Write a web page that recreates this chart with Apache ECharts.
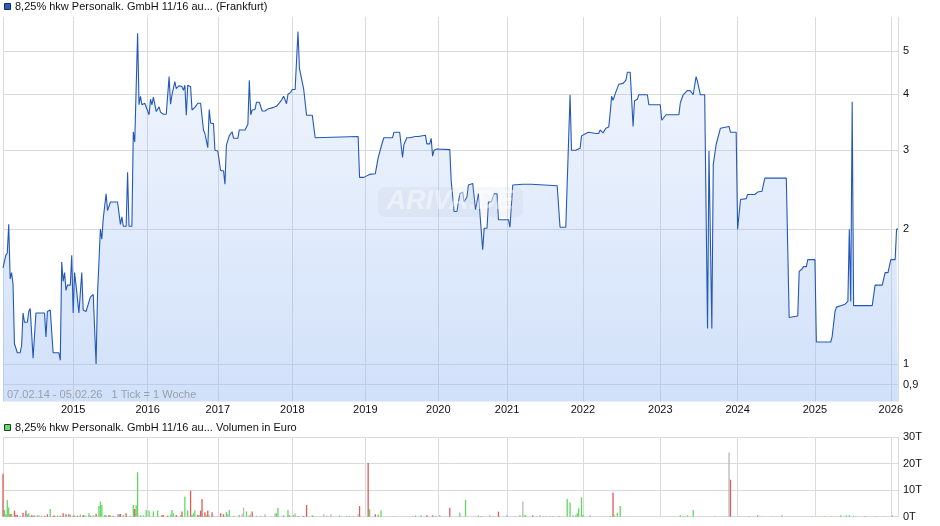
<!DOCTYPE html>
<html><head><meta charset="utf-8">
<script src="https://cdn.jsdelivr.net/npm/echarts@6/dist/echarts.min.js"></script>
<style>html,body{margin:0;padding:0;background:#fff}#c{width:940px;height:526px}</style>
</head><body><div id="c"></div>
<script>
// x = chart tick index (1 Tick = 1 Woche), from 07.02.14 to 05.02.26
const firstTick = 0;
const lastTick = 625;
const yearTicks = [49, 101, 150, 202, 253, 304, 352, 405, 459, 513, 567, 620];
const yearLabels = ['2015','2016','2017','2018','2019','2020','2021','2022','2023','2024','2025','2026'];
const priceTicks = [0.9, 1, 2, 3, 4, 5];
const priceMin = 0.825;
const priceMax = 5.95;
const volumeTicksMax = 30;

// [tick, price]
const pricePoints = [[0,1.64],[2,1.75],[3,1.77],[4,2.05],[5,1.55],[6,1.60],[7,1.51],[8,1.11],[9,1.10],[10,1.06],[12,1.06],[13,1.10],[14,1.30],[15,1.24],[17,1.24],[18,1.31],[19,1.33],[20,1.33],[21,1.03],[23,1.30],[29,1.30],[30,1.15],[31,1.31],[33,1.32],[35,1.06],[36,1.06],[39,1.06],[40,1.02],[41,1.69],[42,1.53],[43,1.60],[44,1.46],[45,1.50],[47,1.50],[48,1.75],[49,1.30],[50,1.60],[51,1.50],[52,1.50],[53,1.30],[55,1.60],[56,1.32],[58,1.31],[59,1.32],[61,1.41],[63,1.43],[64,1.43],[65,1.00],[66,1.43],[67,1.44],[68,2.00],[69,1.90],[70,2.11],[71,2.12],[72,2.40],[73,2.20],[74,2.20],[75,2.30],[80,2.30],[82,2.05],[83,2.13],[84,2.03],[86,2.03],[87,2.68],[88,2.03],[90,2.03],[91,3.30],[92,3.13],[93,3.13],[94,5.47],[95,3.79],[96,3.96],[97,3.79],[99,3.82],[100,3.79],[102,3.60],[103,3.90],[104,3.79],[105,3.94],[107,3.66],[108,3.66],[109,3.75],[110,3.65],[112,3.61],[114,3.61],[116,4.38],[117,3.80],[118,3.99],[119,4.02],[120,4.27],[121,4.12],[123,4.18],[125,4.16],[126,4.08],[127,4.19],[128,3.59],[129,4.19],[131,4.16],[132,3.69],[134,3.74],[136,3.82],[138,3.82],[140,3.33],[141,3.27],[143,3.04],[144,3.70],[145,3.45],[147,3.44],[148,3.00],[150,2.99],[152,2.70],[154,2.70],[155,2.52],[156,3.08],[157,3.11],[158,3.23],[159,3.22],[160,3.30],[161,3.19],[164,3.19],[165,3.33],[169,3.33],[171,3.43],[172,4.30],[173,3.60],[174,3.69],[176,3.70],[177,3.84],[179,3.84],[181,3.67],[183,3.67],[185,3.71],[189,3.74],[191,3.76],[192,3.74],[194,3.86],[196,3.96],[198,3.81],[199,4.00],[201,4.04],[202,4.10],[204,4.10],[206,5.52],[207,4.57],[208,4.55],[210,4.10],[211,4.10],[212,3.59],[216,3.59],[218,3.20],[248,3.22],[249,2.61],[252,2.61],[254,2.63],[255,2.62],[256,2.65],[260,2.66],[261,2.68],[262,2.89],[263,2.89],[265,3.13],[266,3.20],[272,3.20],[273,3.29],[277,3.29],[279,2.89],[280,3.09],[281,3.10],[282,3.20],[284,3.20],[288,3.22],[290,3.22],[291,3.24],[295,3.24],[296,3.10],[298,3.10],[299,3.19],[300,2.91],[301,3.00],[303,3.02],[312,3.01],[313,2.56],[314,2.56],[315,2.19],[317,2.19],[319,2.40],[320,2.42],[321,2.42],[322,2.30],[324,2.36],[325,2.51],[326,2.53],[328,2.53],[330,2.21],[331,2.21],[332,2.40],[333,2.40],[335,1.80],[336,2.01],[338,2.01],[339,2.30],[341,2.30],[343,2.40],[345,2.40],[346,2.10],[348,2.10],[353,2.10],[354,2.02],[355,2.02],[356,2.51],[363,2.52],[369,2.52],[370,2.50],[387,2.50],[389,2.02],[393,2.02],[396,3.99],[397,3.00],[400,3.00],[403,3.03],[404,3.23],[407,3.27],[409,3.29],[414,3.27],[416,3.27],[417,3.33],[419,3.28],[421,3.36],[423,3.38],[424,3.63],[425,3.96],[426,3.88],[428,4.05],[430,4.21],[433,4.23],[435,4.30],[436,4.48],[438,4.48],[440,3.39],[441,3.87],[443,3.90],[444,3.99],[450,3.99],[451,3.79],[459,3.79],[460,3.50],[461,3.50],[463,3.60],[472,3.60],[473,3.83],[474,3.85],[475,3.99],[478,4.08],[480,4.07],[482,3.99],[484,4.38],[485,4.27],[487,3.99],[490,3.99],[492,1.20],[493,2.99],[494,2.99],[495,1.20],[496,2.79],[497,2.79],[498,3.09],[499,3.09],[501,3.36],[502,3.39],[507,3.39],[508,3.29],[512,3.29],[513,2.00],[515,2.33],[516,2.34],[519,2.34],[520,2.39],[525,2.39],[527,2.42],[530,2.43],[532,2.60],[547,2.60],[549,1.27],[550,1.28],[555,1.28],[556,1.61],[558,1.63],[559,1.65],[561,1.65],[562,1.71],[567,1.71],[568,1.12],[578,1.12],[579,1.15],[580,1.16],[581,1.31],[582,1.34],[585,1.35],[588,1.36],[590,1.38],[591,2.00],[592,1.38],[593,3.85],[594,1.35],[599,1.35],[607,1.35],[609,1.50],[614,1.50],[616,1.60],[618,1.60],[620,1.71],[623,1.71],[624,2.00],[625,2.00]];

// volume in thousand euro (T), [tick, value]
const volumeUp = [[1,2.5],[2,1.0],[3,6.3],[4,3.5],[6,1.0],[17,0.9],[18,1.3],[24,0.5],[33,2.9],[38,0.5],[47,0.8],[50,0.5],[54,0.8],[57,0.5],[60,1.3],[63,0.5],[67,4.0],[68,5.7],[69,4.4],[71,0.6],[72,0.6],[75,0.5],[84,0.6],[91,4.4],[93,4.3],[94,16.7],[96,0.6],[98,0.5],[100,2.5],[102,2.3],[105,2.0],[108,2.3],[117,0.8],[118,2.5],[119,1.3],[124,0.6],[127,7.6],[129,2.3],[132,0.6],[133,1.3],[134,2.3],[137,0.6],[142,0.5],[144,0.5],[156,1.7],[158,2.5],[161,0.3],[165,0.6],[170,2.0],[172,0.5],[191,1.3],[192,3.4],[196,0.5],[199,2.5],[203,0.6],[206,0.3],[216,0.5],[240,0.3],[256,2.9],[262,0.8],[264,2.3],[273,0.2],[288,0.5],[292,0.5],[302,0.3],[319,1.5],[323,6.3],[332,0.5],[342,0.2],[364,0.5],[365,0.5],[394,6.7],[396,5.3],[400,0.5],[401,1.3],[402,3.2],[404,7.3],[405,0.6],[424,0.3],[427,0.5],[429,1.5],[431,4.0],[473,0.5],[475,0.3],[478,0.5],[482,2.5],[497,0.2],[514,0.2],[521,0.3],[527,0.6],[574,0.2],[578,0.2],[585,0.5],[589,0.5],[591,0.5],[594,0.3],[610,0.2],[621,0.5]];
const volumeDown = [[0,16.2],[5,1.0],[8,2.3],[9,0.6],[10,0.6],[14,1.5],[16,2.3],[20,0.6],[21,0.4],[29,0.3],[31,0.9],[35,0.4],[36,0.4],[40,0.4],[42,1.3],[44,0.9],[46,0.9],[49,0.4],[52,0.4],[56,0.6],[61,0.4],[65,1.0],[74,0.6],[77,0.4],[81,0.9],[82,1.0],[86,1.3],[92,2.9],[111,0.6],[112,0.6],[115,0.4],[121,0.6],[125,2.0],[131,9.8],[136,0.6],[138,2.3],[139,6.7],[141,1.7],[143,2.3],[146,1.7],[152,1.3],[154,0.9],[174,2.0],[200,0.5],[210,0.3],[212,4.4],[217,0.2],[249,4.0],[255,20.2],[260,0.9],[296,0.5],[300,0.5],[312,3.4],[334,0.2],[346,1.9],[370,0.5],[388,0.2],[426,9.1],[508,13.9],[602,0.2]];
const volumeFlat = [[12,0.4],[22,0.6],[25,0.6],[27,0.4],[80,0.9],[89,0.4],[147,0.3],[150,0.3],[157,1.0],[167,0.9],[168,3.4],[173,0.9],[177,0.4],[180,0.4],[183,0.9],[190,1.3],[202,0.4],[204,1.3],[224,0.9],[226,0.4],[229,0.9],[235,0.6],[242,0.4],[245,0.4],[248,0.9],[286,0.3],[305,0.6],[340,0.6],[352,0.6],[358,0.2],[361,0.6],[363,5.7],[373,0.2],[375,0.6],[377,0.2],[379,0.3],[382,0.3],[384,0.3],[398,0.6],[410,0.6],[468,0.2],[507,24.2],[530,0.2],[537,0.2],[544,0.6],[565,0.2],[596,0.2],[615,0.2]];

const FONT = '"Liberation Sans", Arial, sans-serif';
const GRID_COLOR = '#dadada';
const gridTicks = [firstTick].concat(yearTicks, [lastTick]);

function xAxisFor(gridIndex, showLabels) {
  return {
    type: 'value', gridIndex: gridIndex, min: firstTick, max: lastTick,
    axisLine: {show: false},
    axisTick: {show: false, customValues: gridTicks},
    splitLine: {show: true, lineStyle: {color: GRID_COLOR, width: 1}},
    axisLabel: {
      show: showLabels, customValues: yearTicks, margin: 3,
      fontFamily: FONT, fontSize: 11, color: '#111',
      formatter: function (v) { const i = yearTicks.indexOf(v); return i >= 0 ? yearLabels[i] : ''; }
    }
  };
}

const chart = echarts.init(document.getElementById('c'), null, {renderer: 'canvas'});
chart.setOption({
  animation: false,
  backgroundColor: '#fff',
  grid: [
    {left: 3, right: 42, top: 17, bottom: 124.5},
    {left: 3, right: 42, top: 437, bottom: 9.3}
  ],
  xAxis: [xAxisFor(0, true), xAxisFor(1, false)],
  yAxis: [
    {
      type: 'log', logBase: 10, gridIndex: 0, position: 'right', min: priceMin, max: priceMax,
      axisLine: {show: false},
      axisTick: {show: false, customValues: priceTicks},
      splitLine: {show: true, lineStyle: {color: GRID_COLOR, width: 1}},
      axisLabel: {
        customValues: priceTicks, margin: 5, fontFamily: FONT, fontSize: 11, color: '#111',
        formatter: function (v) { return String(v).replace('.', ','); }
      }
    },
    {
      type: 'value', gridIndex: 1, position: 'right', min: 0, max: volumeTicksMax, interval: 10,
      axisLine: {show: false}, axisTick: {show: false},
      splitLine: {show: true, lineStyle: {color: GRID_COLOR, width: 1}},
      axisLabel: {margin: 5, fontFamily: FONT, fontSize: 11, color: '#111',
        formatter: function (v) { return v + 'T'; }}
    }
  ],
  series: [
    {
      type: 'line', xAxisIndex: 0, yAxisIndex: 0, data: pricePoints,
      symbol: 'none', silent: true,
      lineStyle: {color: '#2458b8', width: 1.1},
      areaStyle: {
        origin: 'start',
        color: new echarts.graphic.LinearGradient(0, 0, 0, 1, [
          {offset: 0, color: 'rgba(155,189,243,0.18)'},
          {offset: 1, color: 'rgba(155,189,243,0.66)'}
        ])
      },
      z: 3
    },
    {type: 'bar', xAxisIndex: 1, yAxisIndex: 1, data: volumeUp, barWidth: 1.3, barGap: '-100%',
      itemStyle: {color: '#62d862'}, silent: true},
    {type: 'bar', xAxisIndex: 1, yAxisIndex: 1, data: volumeDown, barWidth: 1.3, barGap: '-100%',
      itemStyle: {color: '#e05a5a'}, silent: true},
    {type: 'bar', xAxisIndex: 1, yAxisIndex: 1, data: volumeFlat, barWidth: 1.3, barGap: '-100%',
      itemStyle: {color: '#b8b8b8'}, silent: true}
  ],
  graphic: [
    {type: 'rect', shape: {x: 4.5, y: 3.5, width: 6, height: 6}, style: {fill: '#2a5cc4', stroke: '#1a2a55', lineWidth: 1}},
    {type: 'text', x: 15, y: 7, style: {text: '8,25% hkw Personalk. GmbH 11/16 au... (Frankfurt)', font: '11px ' + FONT, fill: '#111', verticalAlign: 'middle'}},
    {type: 'rect', shape: {x: 4.5, y: 424.5, width: 6, height: 6}, style: {fill: '#66dd66', stroke: '#2a3a2a', lineWidth: 1}},
    {type: 'text', x: 15, y: 428, style: {text: '8,25% hkw Personalk. GmbH 11/16 au... Volumen in Euro', font: '11px ' + FONT, fill: '#111', verticalAlign: 'middle'}},
    {type: 'text', x: 7, y: 395, z: 10, style: {text: '07.02.14 - 05.02.26   1 Tick = 1 Woche', font: '11px ' + FONT, fill: '#9aa0aa', verticalAlign: 'middle'}},
    {type: 'rect', z: 10, shape: {x: 378, y: 187, width: 145, height: 30, r: 7}, style: {fill: 'rgba(170,180,200,0.12)'}},
    {type: 'text', z: 10, x: 450, y: 202, style: {text: 'ARIVA.DE', font: 'italic bold 27px ' + FONT, fill: 'rgba(255,255,255,0.45)', align: 'center', verticalAlign: 'middle'}}
  ]
});
</script>
</body></html>
